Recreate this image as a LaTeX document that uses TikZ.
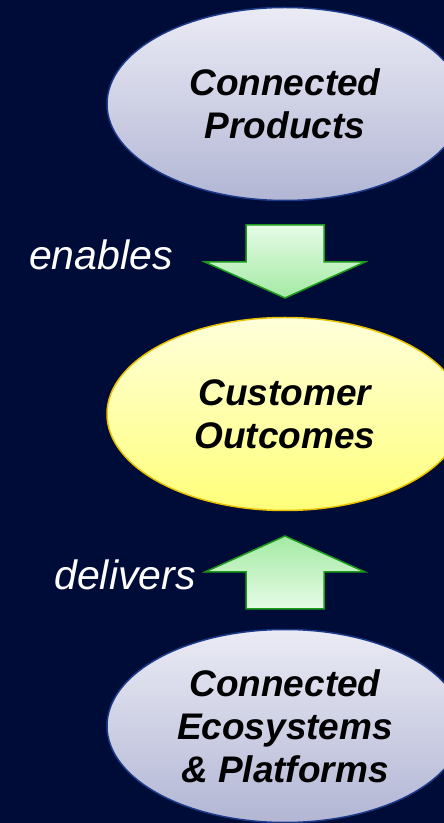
\documentclass[tikz,border=0pt]{standalone}
\usepackage{fontspec}
\setmainfont{Liberation Sans}
\usetikzlibrary{shapes.geometric}

\definecolor{navy}{HTML}{000C38}
\definecolor{bubbleedge}{HTML}{1C3A8A}
\definecolor{bubbletop}{HTML}{EBEBF5}
\definecolor{bubblebot}{HTML}{B2B6D4}
\definecolor{sunedge}{HTML}{E8C200}
\definecolor{suntop}{HTML}{FFFFDA}
\definecolor{sunbot}{HTML}{FFFF7A}
\definecolor{leafedge}{HTML}{1C9A1C}
\definecolor{leaflight}{HTML}{E6FBE6}
\definecolor{leafdark}{HTML}{A4EAA4}

\tikzset{
  bubble/.style={ellipse, draw=bubbleedge, line width=1.5pt, top color=bubbletop,
    bottom color=bubblebot, minimum width=356pt, minimum height=193pt, inner sep=0pt,
    align=center, font=\fontsize{37}{43}\selectfont\bfseries\itshape},
  sunbubble/.style={bubble, draw=sunedge, top color=suntop, bottom color=sunbot},
  verb/.style={text=white, font=\fontsize{41}{45}\selectfont\itshape, anchor=base},
  blockarrow/.style={draw=leafedge, line width=1.5pt, line join=miter}
}

\begin{document}
\begin{tikzpicture}[x=1pt,y=1pt]
\useasboundingbox (0,0) rectangle (444,823);
\fill[navy] (0,0) rectangle (444,823);

\node[bubble] (products) at (285,719) {Connected\\Products};
\node[sunbubble] (outcomes) at (285,409) {Customer\\Outcomes};
\node[bubble] (ecosystems) at (285,97) {Connected\\Ecosystems\\\& Platforms};

\coordinate (downtip) at (285,525);
\coordinate (uptip) at (285,287);

\draw[blockarrow, top color=leaflight, bottom color=leafdark]
  (downtip) -- ++(80,36) -- ++(-41,0) -- ++(0,37) -- ++(-78,0) -- ++(0,-37) -- ++(-41,0) -- cycle;
\draw[blockarrow, top color=leafdark, bottom color=leaflight]
  (uptip) -- ++(80,-36) -- ++(-41,0) -- ++(0,-37) -- ++(-78,0) -- ++(0,37) -- ++(-41,0) -- cycle;

\node[verb] (enables) at (101,553) {enables};
\node[verb] (delivers) at (125,233) {delivers};
\end{tikzpicture}
\end{document}
